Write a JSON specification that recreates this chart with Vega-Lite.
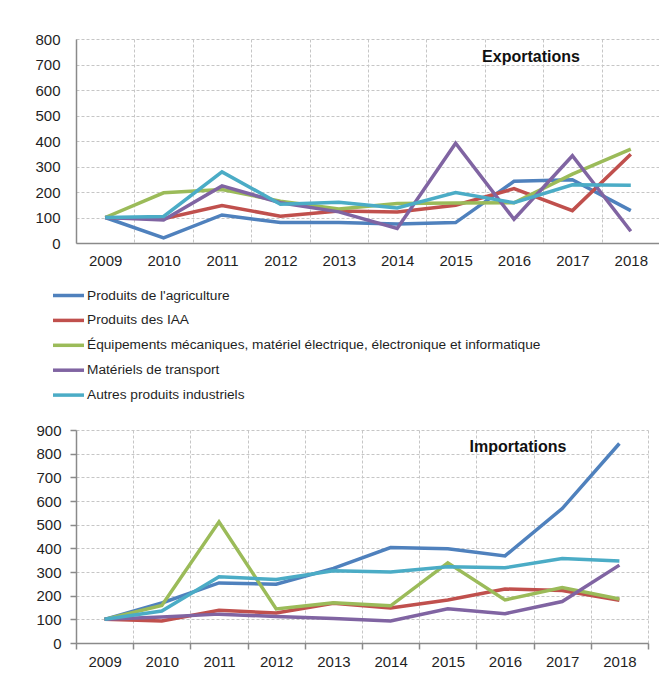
{
  "$schema": "https://vega.github.io/schema/vega-lite/v6.json",
  "background": "white",
  "padding": {"left": 34, "top": 32, "right": 0, "bottom": 5},
  "spacing": 20,
  "config": {
    "view": {"stroke": null},
    "font": "Liberation Sans",
    "axis": {
      "title": null,
      "labelFont": "Liberation Sans",
      "labelFontSize": 15,
      "labelColor": "#1f1f1f",
      "labelOverlap": false,
      "domainColor": "#8a8a8a",
      "domainWidth": 1.5,
      "tickColor": "#8a8a8a",
      "tickWidth": 1.5,
      "gridColor": "#c6c6c6",
      "gridDash": [3, 2],
      "gridWidth": 1
    }
  },
  "resolve": {"legend": {"color": "independent"}},
  "datasets": {
    "flux": [
      {"flux": "Exportations", "serie": "Produits de l'agriculture", "annee": "2009", "valeur": 100},
      {"flux": "Exportations", "serie": "Produits de l'agriculture", "annee": "2010", "valeur": 20},
      {"flux": "Exportations", "serie": "Produits de l'agriculture", "annee": "2011", "valeur": 110},
      {"flux": "Exportations", "serie": "Produits de l'agriculture", "annee": "2012", "valeur": 80},
      {"flux": "Exportations", "serie": "Produits de l'agriculture", "annee": "2013", "valeur": 80},
      {"flux": "Exportations", "serie": "Produits de l'agriculture", "annee": "2014", "valeur": 75},
      {"flux": "Exportations", "serie": "Produits de l'agriculture", "annee": "2015", "valeur": 80},
      {"flux": "Exportations", "serie": "Produits de l'agriculture", "annee": "2016", "valeur": 242},
      {"flux": "Exportations", "serie": "Produits de l'agriculture", "annee": "2017", "valeur": 248},
      {"flux": "Exportations", "serie": "Produits de l'agriculture", "annee": "2018", "valeur": 127},
      {"flux": "Exportations", "serie": "Produits des IAA", "annee": "2009", "valeur": 100},
      {"flux": "Exportations", "serie": "Produits des IAA", "annee": "2010", "valeur": 95},
      {"flux": "Exportations", "serie": "Produits des IAA", "annee": "2011", "valeur": 147},
      {"flux": "Exportations", "serie": "Produits des IAA", "annee": "2012", "valeur": 105},
      {"flux": "Exportations", "serie": "Produits des IAA", "annee": "2013", "valeur": 125},
      {"flux": "Exportations", "serie": "Produits des IAA", "annee": "2014", "valeur": 122},
      {"flux": "Exportations", "serie": "Produits des IAA", "annee": "2015", "valeur": 148},
      {"flux": "Exportations", "serie": "Produits des IAA", "annee": "2016", "valeur": 213},
      {"flux": "Exportations", "serie": "Produits des IAA", "annee": "2017", "valeur": 127},
      {"flux": "Exportations", "serie": "Produits des IAA", "annee": "2018", "valeur": 348},
      {"flux": "Exportations", "serie": "Équipements mécaniques, matériel électrique, électronique et informatique", "annee": "2009", "valeur": 100},
      {"flux": "Exportations", "serie": "Équipements mécaniques, matériel électrique, électronique et informatique", "annee": "2010", "valeur": 197},
      {"flux": "Exportations", "serie": "Équipements mécaniques, matériel électrique, électronique et informatique", "annee": "2011", "valeur": 210},
      {"flux": "Exportations", "serie": "Équipements mécaniques, matériel électrique, électronique et informatique", "annee": "2012", "valeur": 164},
      {"flux": "Exportations", "serie": "Équipements mécaniques, matériel électrique, électronique et informatique", "annee": "2013", "valeur": 133},
      {"flux": "Exportations", "serie": "Équipements mécaniques, matériel électrique, électronique et informatique", "annee": "2014", "valeur": 155},
      {"flux": "Exportations", "serie": "Équipements mécaniques, matériel électrique, électronique et informatique", "annee": "2015", "valeur": 157},
      {"flux": "Exportations", "serie": "Équipements mécaniques, matériel électrique, électronique et informatique", "annee": "2016", "valeur": 158},
      {"flux": "Exportations", "serie": "Équipements mécaniques, matériel électrique, électronique et informatique", "annee": "2017", "valeur": 270},
      {"flux": "Exportations", "serie": "Équipements mécaniques, matériel électrique, électronique et informatique", "annee": "2018", "valeur": 368},
      {"flux": "Exportations", "serie": "Matériels de transport", "annee": "2009", "valeur": 100},
      {"flux": "Exportations", "serie": "Matériels de transport", "annee": "2010", "valeur": 90},
      {"flux": "Exportations", "serie": "Matériels de transport", "annee": "2011", "valeur": 224},
      {"flux": "Exportations", "serie": "Matériels de transport", "annee": "2012", "valeur": 158},
      {"flux": "Exportations", "serie": "Matériels de transport", "annee": "2013", "valeur": 122},
      {"flux": "Exportations", "serie": "Matériels de transport", "annee": "2014", "valeur": 57},
      {"flux": "Exportations", "serie": "Matériels de transport", "annee": "2015", "valeur": 391},
      {"flux": "Exportations", "serie": "Matériels de transport", "annee": "2016", "valeur": 93},
      {"flux": "Exportations", "serie": "Matériels de transport", "annee": "2017", "valeur": 342},
      {"flux": "Exportations", "serie": "Matériels de transport", "annee": "2018", "valeur": 46},
      {"flux": "Exportations", "serie": "Autres produits industriels", "annee": "2009", "valeur": 100},
      {"flux": "Exportations", "serie": "Autres produits industriels", "annee": "2010", "valeur": 104},
      {"flux": "Exportations", "serie": "Autres produits industriels", "annee": "2011", "valeur": 279},
      {"flux": "Exportations", "serie": "Autres produits industriels", "annee": "2012", "valeur": 152},
      {"flux": "Exportations", "serie": "Autres produits industriels", "annee": "2013", "valeur": 160},
      {"flux": "Exportations", "serie": "Autres produits industriels", "annee": "2014", "valeur": 137},
      {"flux": "Exportations", "serie": "Autres produits industriels", "annee": "2015", "valeur": 198},
      {"flux": "Exportations", "serie": "Autres produits industriels", "annee": "2016", "valeur": 158},
      {"flux": "Exportations", "serie": "Autres produits industriels", "annee": "2017", "valeur": 228},
      {"flux": "Exportations", "serie": "Autres produits industriels", "annee": "2018", "valeur": 226},
      {"flux": "Importations", "serie": "Produits de l'agriculture", "annee": "2009", "valeur": 100},
      {"flux": "Importations", "serie": "Produits de l'agriculture", "annee": "2010", "valeur": 169},
      {"flux": "Importations", "serie": "Produits de l'agriculture", "annee": "2011", "valeur": 254},
      {"flux": "Importations", "serie": "Produits de l'agriculture", "annee": "2012", "valeur": 248},
      {"flux": "Importations", "serie": "Produits de l'agriculture", "annee": "2013", "valeur": 315},
      {"flux": "Importations", "serie": "Produits de l'agriculture", "annee": "2014", "valeur": 403},
      {"flux": "Importations", "serie": "Produits de l'agriculture", "annee": "2015", "valeur": 398},
      {"flux": "Importations", "serie": "Produits de l'agriculture", "annee": "2016", "valeur": 368},
      {"flux": "Importations", "serie": "Produits de l'agriculture", "annee": "2017", "valeur": 568},
      {"flux": "Importations", "serie": "Produits de l'agriculture", "annee": "2018", "valeur": 843},
      {"flux": "Importations", "serie": "Produits des IAA", "annee": "2009", "valeur": 100},
      {"flux": "Importations", "serie": "Produits des IAA", "annee": "2010", "valeur": 93},
      {"flux": "Importations", "serie": "Produits des IAA", "annee": "2011", "valeur": 138},
      {"flux": "Importations", "serie": "Produits des IAA", "annee": "2012", "valeur": 127},
      {"flux": "Importations", "serie": "Produits des IAA", "annee": "2013", "valeur": 168},
      {"flux": "Importations", "serie": "Produits des IAA", "annee": "2014", "valeur": 148},
      {"flux": "Importations", "serie": "Produits des IAA", "annee": "2015", "valeur": 182},
      {"flux": "Importations", "serie": "Produits des IAA", "annee": "2016", "valeur": 228},
      {"flux": "Importations", "serie": "Produits des IAA", "annee": "2017", "valeur": 222},
      {"flux": "Importations", "serie": "Produits des IAA", "annee": "2018", "valeur": 181},
      {"flux": "Importations", "serie": "Équipements mécaniques, matériel électrique, électronique et informatique", "annee": "2009", "valeur": 100},
      {"flux": "Importations", "serie": "Équipements mécaniques, matériel électrique, électronique et informatique", "annee": "2010", "valeur": 159},
      {"flux": "Importations", "serie": "Équipements mécaniques, matériel électrique, électronique et informatique", "annee": "2011", "valeur": 512},
      {"flux": "Importations", "serie": "Équipements mécaniques, matériel électrique, électronique et informatique", "annee": "2012", "valeur": 144},
      {"flux": "Importations", "serie": "Équipements mécaniques, matériel électrique, électronique et informatique", "annee": "2013", "valeur": 170},
      {"flux": "Importations", "serie": "Équipements mécaniques, matériel électrique, électronique et informatique", "annee": "2014", "valeur": 157},
      {"flux": "Importations", "serie": "Équipements mécaniques, matériel électrique, électronique et informatique", "annee": "2015", "valeur": 339},
      {"flux": "Importations", "serie": "Équipements mécaniques, matériel électrique, électronique et informatique", "annee": "2016", "valeur": 182},
      {"flux": "Importations", "serie": "Équipements mécaniques, matériel électrique, électronique et informatique", "annee": "2017", "valeur": 234},
      {"flux": "Importations", "serie": "Équipements mécaniques, matériel électrique, électronique et informatique", "annee": "2018", "valeur": 186},
      {"flux": "Importations", "serie": "Matériels de transport", "annee": "2009", "valeur": 100},
      {"flux": "Importations", "serie": "Matériels de transport", "annee": "2010", "valeur": 110},
      {"flux": "Importations", "serie": "Matériels de transport", "annee": "2011", "valeur": 122},
      {"flux": "Importations", "serie": "Matériels de transport", "annee": "2012", "valeur": 112},
      {"flux": "Importations", "serie": "Matériels de transport", "annee": "2013", "valeur": 104},
      {"flux": "Importations", "serie": "Matériels de transport", "annee": "2014", "valeur": 93},
      {"flux": "Importations", "serie": "Matériels de transport", "annee": "2015", "valeur": 145},
      {"flux": "Importations", "serie": "Matériels de transport", "annee": "2016", "valeur": 124},
      {"flux": "Importations", "serie": "Matériels de transport", "annee": "2017", "valeur": 175},
      {"flux": "Importations", "serie": "Matériels de transport", "annee": "2018", "valeur": 329},
      {"flux": "Importations", "serie": "Autres produits industriels", "annee": "2009", "valeur": 100},
      {"flux": "Importations", "serie": "Autres produits industriels", "annee": "2010", "valeur": 135},
      {"flux": "Importations", "serie": "Autres produits industriels", "annee": "2011", "valeur": 280},
      {"flux": "Importations", "serie": "Autres produits industriels", "annee": "2012", "valeur": 268},
      {"flux": "Importations", "serie": "Autres produits industriels", "annee": "2013", "valeur": 305},
      {"flux": "Importations", "serie": "Autres produits industriels", "annee": "2014", "valeur": 300},
      {"flux": "Importations", "serie": "Autres produits industriels", "annee": "2015", "valeur": 322},
      {"flux": "Importations", "serie": "Autres produits industriels", "annee": "2016", "valeur": 318},
      {"flux": "Importations", "serie": "Autres produits industriels", "annee": "2017", "valeur": 357},
      {"flux": "Importations", "serie": "Autres produits industriels", "annee": "2018", "valeur": 346}
    ],
    "titres": [
      {"flux": "Exportations", "annee": "2016", "valeur": 710},
      {"flux": "Importations", "annee": "2016", "valeur": 807}
    ]
  },
  "vconcat": [
    {
      "width": 584,
      "height": 204,
      "layer": [
        {
          "data": {"name": "flux"},
          "transform": [{"filter": "datum.flux === 'Exportations'"}],
          "mark": {"type": "line", "strokeWidth": 3.5},
          "encoding": {
            "x": {
              "field": "annee", "type": "ordinal", "bandPosition": 0.5,
              "scale": {"type": "band", "paddingInner": 0, "paddingOuter": 0},
              "axis": {"tickBand": "extent", "ticks": false, "labelAngle": 0, "labelPadding": 10, "grid": true}
            },
            "y": {
              "field": "valeur", "type": "quantitative",
              "scale": {"domain": [0, 800]},
              "axis": {"values": [0, 100, 200, 300, 400, 500, 600, 700, 800], "tickCount": 9, "labelOverlap": false, "ticks": false, "labelPadding": 16, "grid": true}
            },
            "color": {
              "field": "serie", "type": "nominal",
              "scale": {
                "domain": ["Produits de l'agriculture", "Produits des IAA", "Équipements mécaniques, matériel électrique, électronique et informatique", "Matériels de transport", "Autres produits industriels"],
                "range": ["#4F81BD", "#C0504D", "#9BBB59", "#8064A2", "#4BACC6"]
              },
              "legend": {
                "orient": "none", "legendX": -17, "legendY": 247,
                "direction": "vertical", "title": null, "padding": 0,
                "symbolType": "M-2,0H2", "symbolSize": 240, "symbolStrokeWidth": 3.5,
                "labelFont": "Liberation Sans", "labelFontSize": 13.7, "labelColor": "#1f1f1f",
                "labelLimit": 700, "labelOffset": 9, "rowPadding": 7.9
              }
            }
          }
        },
        {
          "data": {"name": "titres"},
          "transform": [{"filter": "datum.flux === 'Exportations'"}],
          "mark": {"type": "text", "fontWeight": "bold", "fontSize": 16, "dx": 17, "baseline": "alphabetic", "color": "#111111", "font": "Liberation Sans"},
          "encoding": {
            "x": {
              "field": "annee", "type": "ordinal", "bandPosition": 0.5,
              "axis": {"tickBand": "extent", "ticks": false, "labelAngle": 0, "labelPadding": 10, "grid": true}
            },
            "y": {
              "field": "valeur", "type": "quantitative",
              "axis": {"values": [0, 100, 200, 300, 400, 500, 600, 700, 800], "tickCount": 9, "labelOverlap": false, "ticks": false, "labelPadding": 16, "grid": true}
            },
            "text": {"field": "flux"}
          }
        }
      ]
    },
    {
      "width": 572,
      "height": 213,
      "layer": [
        {
          "data": {"name": "flux"},
          "transform": [{"filter": "datum.flux === 'Importations'"}],
          "mark": {"type": "line", "strokeWidth": 3.5},
          "encoding": {
            "x": {
              "field": "annee", "type": "ordinal", "bandPosition": 0.5,
              "scale": {"type": "band", "paddingInner": 0, "paddingOuter": 0},
              "axis": {"tickBand": "extent", "ticks": true, "tickSize": 6, "labelAngle": 0, "labelPadding": 5, "grid": true}
            },
            "y": {
              "field": "valeur", "type": "quantitative",
              "scale": {"domain": [0, 900]},
              "axis": {"values": [0, 100, 200, 300, 400, 500, 600, 700, 800, 900], "tickCount": 10, "labelOverlap": false, "ticks": true, "tickSize": 6, "labelPadding": 9, "grid": true}
            },
            "color": {
              "field": "serie", "type": "nominal",
              "scale": {
                "domain": ["Produits de l'agriculture", "Produits des IAA", "Équipements mécaniques, matériel électrique, électronique et informatique", "Matériels de transport", "Autres produits industriels"],
                "range": ["#4F81BD", "#C0504D", "#9BBB59", "#8064A2", "#4BACC6"]
              },
              "legend": null
            }
          }
        },
        {
          "data": {"name": "titres"},
          "transform": [{"filter": "datum.flux === 'Importations'"}],
          "mark": {"type": "text", "fontWeight": "bold", "fontSize": 16, "dx": 13, "baseline": "alphabetic", "color": "#111111", "font": "Liberation Sans"},
          "encoding": {
            "x": {
              "field": "annee", "type": "ordinal", "bandPosition": 0.5,
              "axis": {"tickBand": "extent", "ticks": true, "tickSize": 6, "labelAngle": 0, "labelPadding": 5, "grid": true}
            },
            "y": {
              "field": "valeur", "type": "quantitative",
              "axis": {"values": [0, 100, 200, 300, 400, 500, 600, 700, 800, 900], "tickCount": 10, "labelOverlap": false, "ticks": true, "tickSize": 6, "labelPadding": 9, "grid": true}
            },
            "text": {"field": "flux"}
          }
        }
      ]
    }
  ]
}
